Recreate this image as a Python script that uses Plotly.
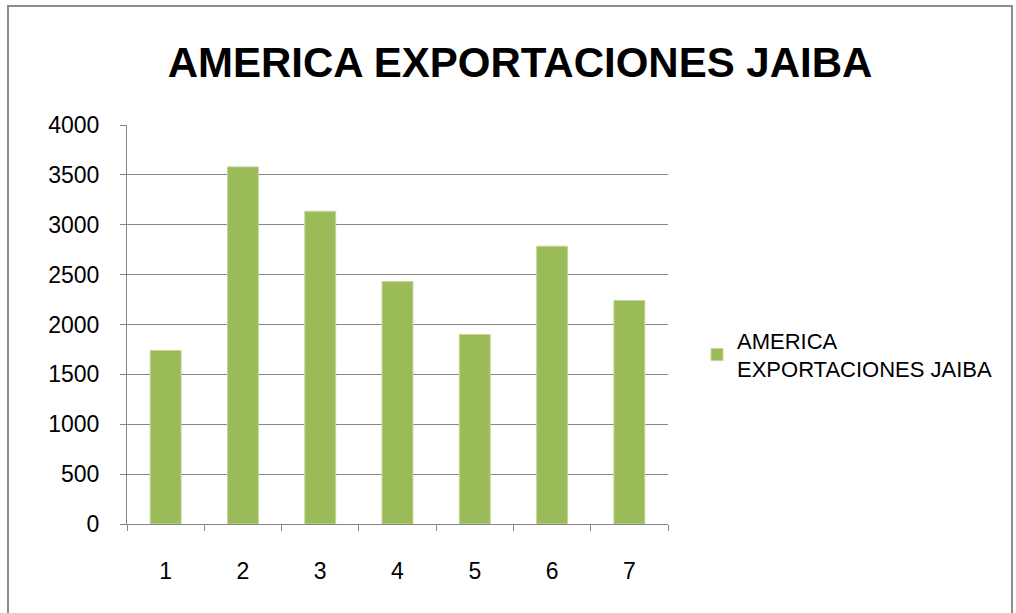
import plotly.graph_objects as go

categorias = ["1", "2", "3", "4", "5", "6", "7"]
exportaciones = [1740, 3580, 3135, 2430, 1900, 2785, 2240]
serie = "AMERICA<br>EXPORTACIONES JAIBA"
titulo = "AMERICA EXPORTACIONES JAIBA"

W, H = 1016, 613
left, right, top, bottom = 127, 668, 125, 524

fig = go.Figure()

fig.add_trace(go.Bar(
    x=categorias,
    y=exportaciones,
    name=serie,
    marker=dict(color="#9BBB59", line=dict(color="#C3D69B", width=1)),
    width=0.4,
    showlegend=True,
))

def px_x(p):
    return (p - left) / (right - left)

def px_y(p):
    return (bottom - p) / (bottom - top)

fig.update_layout(
    width=W,
    height=H,
    margin=dict(l=left, r=W - right, t=top, b=H - bottom),
    paper_bgcolor="white",
    plot_bgcolor="white",
    font=dict(family="Liberation Sans, Arial, sans-serif", size=22, color="#000000"),
    title=dict(
        text="<b>" + titulo + "</b>",
        x=520 / W, xanchor="center",
        y=1 - 62 / H, yanchor="middle",
        xref="container", yref="container",
        font=dict(family="Liberation Sans, Arial, sans-serif", size=42, color="#000000"),
    ),
    showlegend=True,
    legend=dict(
        x=px_x(697), xanchor="left",
        y=px_y(355), yanchor="middle",
        font=dict(size=22),
        itemwidth=30,
        bgcolor="rgba(0,0,0,0)",
    ),
    xaxis=dict(
        type="category",
        showline=True, linecolor="#868686", linewidth=1,
        ticks="outside", tickson="boundaries", ticklen=6, tickcolor="#868686",
        showgrid=False,
        tickfont=dict(size=23),
        ticklabelstandoff=26,
    ),
    yaxis=dict(
        range=[0, 4000],
        dtick=500,
        showline=True, linecolor="#868686", linewidth=1,
        ticks="outside", ticklen=6, tickcolor="#868686",
        showgrid=True, gridcolor="#868686", gridwidth=1,
        tickfont=dict(size=23),
        ticklabelstandoff=16,
        zeroline=False,
    ),
    shapes=[dict(
        type="rect", xref="paper", yref="paper",
        x0=px_x(8), x1=px_x(1012), y0=px_y(640), y1=px_y(6),
        line=dict(color="#8C8C8C", width=2),
        fillcolor="rgba(0,0,0,0)",
        layer="below",
    )],
)

fig.write_html("out.html", config={"displayModeBar": False},
               post_script="document.body.style.margin='0';")
